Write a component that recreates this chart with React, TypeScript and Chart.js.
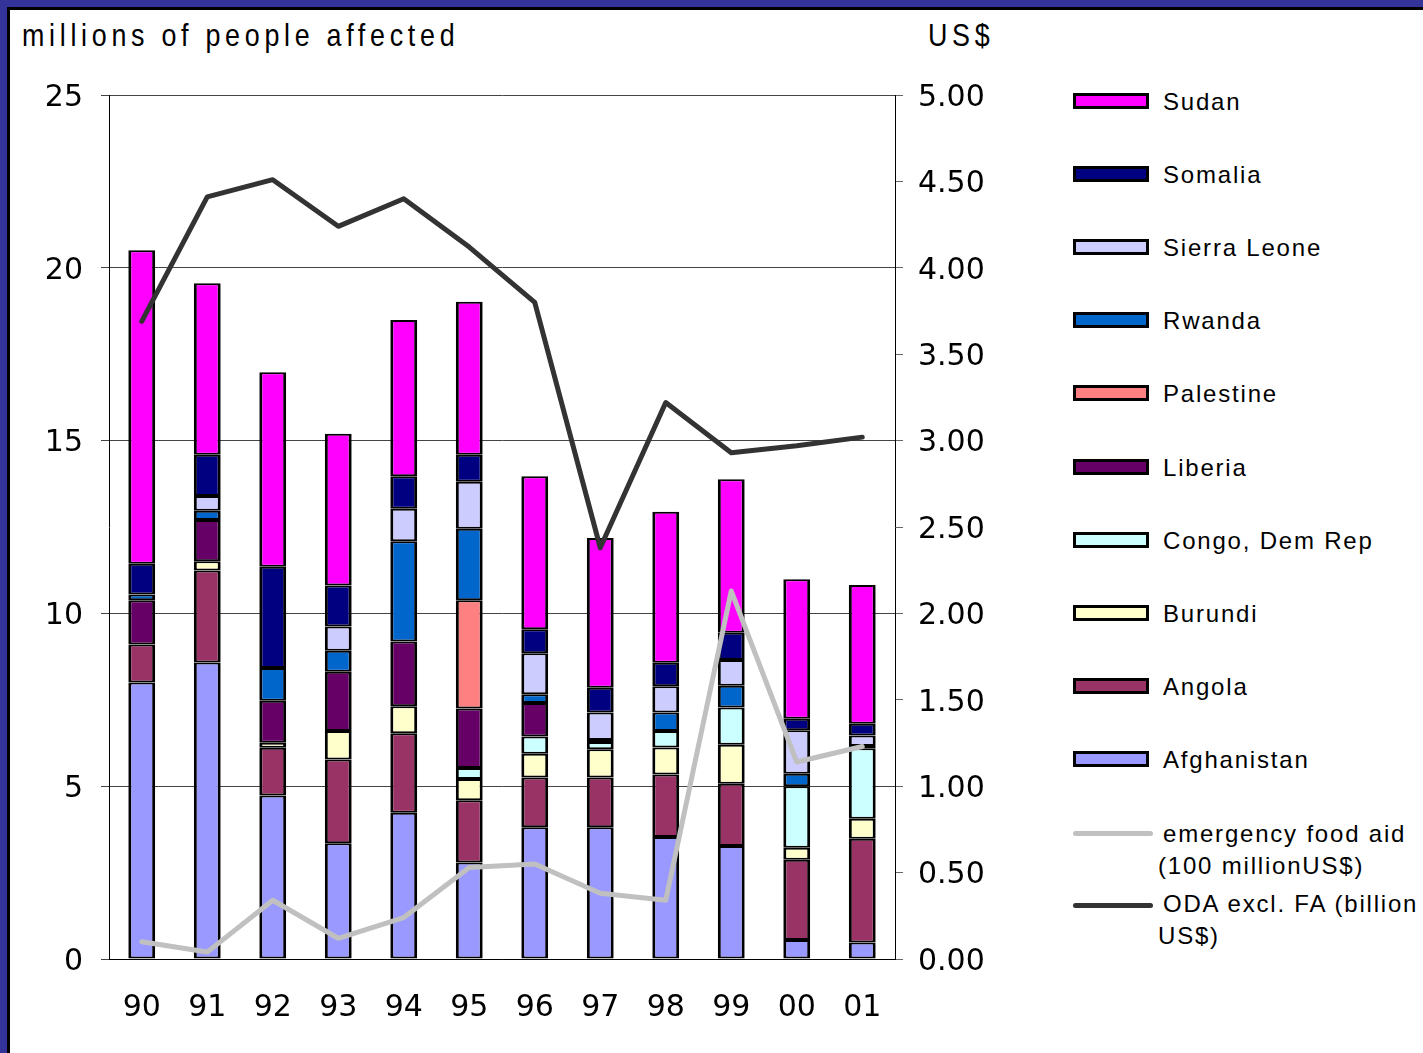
import React, { useEffect, useRef } from 'react';
import Chart from 'chart.js/auto';

const years = ['90', '91', '92', '93', '94', '95', '96', '97', '98', '99', '00', '01'];

const afghanistan = [8.0, 8.58, 4.73, 3.35, 4.23, 2.79, 3.81, 3.81, 3.53, 3.27, 0.55, 0.48];
const angola = [1.1, 2.66, 1.38, 2.42, 2.3, 1.8, 1.44, 1.44, 1.81, 1.8, 2.32, 3.0];
const burundi = [0, 0.27, 0.15, 0.83, 0.78, 0.62, 0.69, 0.82, 0.78, 1.13, 0.35, 0.58];
const congo = [0, 0, 0, 0, 0, 0.32, 0.5, 0.21, 0.48, 1.08, 1.78, 2.04];
const liberia = [1.28, 1.19, 1.21, 1.71, 1.88, 1.72, 0.97, 0.06, 0, 0, 0, 0.06];
const palestine = [0, 0, 0, 0, 0, 3.13, 0, 0, 0, 0, 0, 0];
const rwanda = [0.17, 0.27, 0.95, 0.61, 2.9, 2.07, 0.25, 0, 0.53, 0.63, 0.36, 0];
const sierraLeone = [0, 0.43, 0, 0.7, 0.94, 1.36, 1.19, 0.79, 0.76, 0.74, 1.26, 0.31];
const somalia = [0.89, 1.19, 2.93, 1.19, 0.94, 0.78, 0.69, 0.72, 0.68, 0.79, 0.33, 0.34];
const sudan = [9.07, 4.96, 5.63, 4.39, 4.52, 4.43, 4.43, 4.33, 4.37, 4.44, 4.04, 4.01];

const emergencyFoodAid = [0.1, 0.04, 0.34, 0.12, 0.24, 0.53, 0.55, 0.38, 0.34, 2.13, 1.14, 1.23];
const odaExclFA = [3.69, 4.41, 4.51, 4.24, 4.4, 4.12, 3.8, 2.38, 3.22, 2.93, 2.97, 3.02];

const barSeries = [
  { label: 'Afghanistan', data: afghanistan, color: '#9999FF' },
  { label: 'Angola', data: angola, color: '#993366' },
  { label: 'Burundi', data: burundi, color: '#FFFFCC' },
  { label: 'Congo, Dem Rep', data: congo, color: '#CCFFFF' },
  { label: 'Liberia', data: liberia, color: '#660066' },
  { label: 'Palestine', data: palestine, color: '#FF8080' },
  { label: 'Rwanda', data: rwanda, color: '#0066CC' },
  { label: 'Sierra Leone', data: sierraLeone, color: '#CCCCFF' },
  { label: 'Somalia', data: somalia, color: '#000080' },
  { label: 'Sudan', data: sudan, color: '#FF00FF' },
];

const TICK_FONT = { family: '"DejaVu Sans", Verdana, sans-serif', size: 30 };

export default function App() {
  const ref = useRef<HTMLCanvasElement>(null);

  useEffect(() => {
    const datasets: any[] = [
      {
        type: 'line',
        label: 'ODA excl. FA (billion US$)',
        data: odaExclFA,
        yAxisID: 'y2',
        borderColor: '#333333',
        borderWidth: 5,
        pointRadius: 0,
        tension: 0,
        borderCapStyle: 'round',
        borderJoinStyle: 'round',
        order: 0,
      },
      {
        type: 'line',
        label: 'emergency food aid (100 millionUS$)',
        data: emergencyFoodAid,
        yAxisID: 'y2',
        borderColor: '#C0C0C0',
        borderWidth: 5,
        pointRadius: 0,
        tension: 0,
        borderCapStyle: 'round',
        borderJoinStyle: 'round',
        order: 0,
      },
      ...barSeries.map((s) => ({
        type: 'bar',
        label: s.label,
        data: s.data,
        yAxisID: 'y',
        backgroundColor: s.color,
        borderColor: '#000000',
        borderWidth: { left: 3, right: 3, top: 2, bottom: 2 },
        borderSkipped: false,
        barPercentage: 0.41,
        categoryPercentage: 1,
        order: 1,
      })),
    ];

    const chart = new Chart(ref.current!, {
      type: 'bar',
      data: { labels: years, datasets },
      options: {
        responsive: false,
        animation: false,
        devicePixelRatio: 1,
        layout: { padding: { top: 95, bottom: 0, left: 0, right: 0 } },
        plugins: { legend: { display: false }, tooltip: { enabled: false } },
        scales: {
          x: {
            stacked: true,
            grid: { display: false, drawTicks: false },
            border: { display: true, color: '#000', width: 1 },
            ticks: { font: TICK_FONT, color: '#000', padding: 31, maxRotation: 0, autoSkip: false },
            afterFit: (s: any) => { s.height = 94; },
          },
          y: {
            stacked: true,
            position: 'left',
            min: 0,
            max: 25,
            ticks: { stepSize: 5, font: TICK_FONT, color: '#000', padding: 18, labelOffset: 3 },
            grid: { color: '#444', lineWidth: 1, tickLength: 8 },
            border: { color: '#000', width: 1 },
            afterFit: (s: any) => { s.width = 109; },
          },
          y2: {
            position: 'right',
            min: 0,
            max: 5,
            ticks: {
              stepSize: 0.5,
              font: TICK_FONT,
              color: '#000',
              padding: 15,
              labelOffset: 3,
              callback: (v: any) => Number(v).toFixed(2),
            },
            grid: { drawOnChartArea: false, color: '#666', tickLength: 8 },
            border: { color: '#000', width: 1 },
            afterFit: (s: any) => { s.width = 155; },
          },
        },
      } as any,
    });
    return () => chart.destroy();
  }, []);

  const legendItems = [...barSeries].reverse();
  const rowTop = 101;
  const rowGap = 73.1;
  const textFont = '"Liberation Sans", Arial, sans-serif';
  const legendText = { position: 'absolute' as const, fontFamily: textFont, fontSize: 24, lineHeight: '24px', letterSpacing: '1.8px', whiteSpace: 'nowrap' as const, color: '#000' };
  const titleText = { position: 'absolute' as const, top: 19, fontFamily: textFont, fontSize: 32, lineHeight: '32px', letterSpacing: '5.6px', whiteSpace: 'nowrap' as const, transform: 'scaleX(0.84)', transformOrigin: 'left top', color: '#000' };

  return (
    <div style={{ position: 'absolute', left: 0, top: 0, width: 1423, height: 1053, background: '#333399', overflow: 'hidden' }}>
      <div style={{ position: 'absolute', left: 7, top: 7, width: 1416, height: 1046, background: '#fff', borderTop: '3px solid #000', borderLeft: '3px solid #000', boxSizing: 'border-box' }} />
      <div style={{ ...titleText, left: 22 }}>millions of people affected</div>
      <div style={{ ...titleText, left: 928 }}>US$</div>
      <canvas ref={ref} width={1050} height={1053} style={{ position: 'absolute', left: 0, top: 0, width: 1050, height: 1053 }} />
      {legendItems.map((s, i) => {
        const cy = rowTop + i * rowGap;
        return (
          <React.Fragment key={s.label}>
            <div style={{ position: 'absolute', left: 1073, top: cy - 8, width: 76, height: 16, background: s.color, border: '3px solid #000', boxSizing: 'border-box' }} />
            <div style={{ ...legendText, left: 1163, top: cy - 11 }}>{s.label}</div>
          </React.Fragment>
        );
      })}
      <div style={{ position: 'absolute', left: 1073, top: 831, width: 80, height: 5, borderRadius: 3, background: '#C0C0C0' }} />
      <div style={{ ...legendText, left: 1163, top: 822 }}>emergency food aid</div>
      <div style={{ ...legendText, left: 1158, top: 854 }}>(100 millionUS$)</div>
      <div style={{ position: 'absolute', left: 1073, top: 903, width: 80, height: 5, borderRadius: 3, background: '#333333' }} />
      <div style={{ ...legendText, left: 1163, top: 892 }}>ODA excl. FA (billion</div>
      <div style={{ ...legendText, left: 1158, top: 924 }}>US$)</div>
    </div>
  );
}
